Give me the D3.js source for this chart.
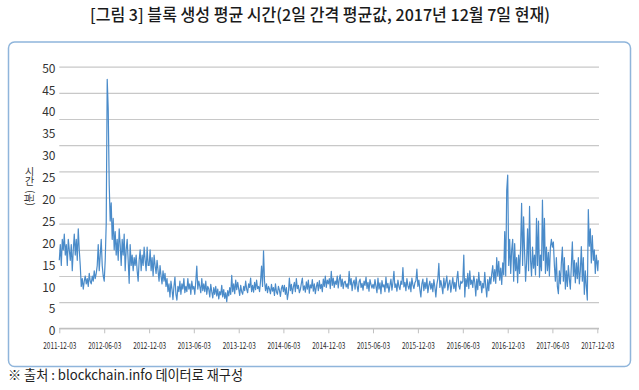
<!DOCTYPE html>
<html><head><meta charset="utf-8">
<script src="https://cdn.jsdelivr.net/npm/d3@7"></script>
<style>body{margin:0;background:#fff} svg{display:block}</style>
</head><body>
<svg id="c" width="639" height="390"></svg>
<script>
// ---- data ----
const titleText = "[그림 3] 블록 생성 평균 시간(2일 간격 평균값, 2017년 12월 7일 현재)";
const sourceText = "※ 출처 : blockchain.info 데이터로 재구성";
const tickDates = ["2011-12-03","2012-06-03","2012-12-03","2013-06-03","2013-12-03","2014-06-03","2014-12-03","2015-06-03","2015-12-03","2016-06-03","2016-12-03","2017-06-03","2017-12-03"];
const yTickLabels = ["50","45","40","35","30","25","20","25","20","15","10","5","0"];
const gridValues = [0,5,10,15,20,25,30,35,40,45,50];

// values (minutes), one array per half-year period starting at tickDates[k]
const p2011_12 = [13,16,12,17,15,18,14,16,12,17,15,13,16,11,15,18,14,17,13,19,15,12,8,9.5,7.5,9,10,8.5,9.5,8,10.5,9,8.5,10,9,11,9.5,10.5,12,16,11,14,17,12,10];
const p2012_06 = [9,13,20,47.6,42,27.5,20.5,24,17,21,15,18.5,14,17,13,19,16,12,17,14,18,11,15,17,13,8.6,16,12,14,11,13.5,12,14,11,9,13,15,11,14,12,15.5,13,11,15.5,12];
const p2012_12 = [12,15,11,13.5,10,14,12,10.5,13,11,9,12,10,8.5,11,9,10.5,8,9.5,7,8.5,6,9,7.5,5.5,8,9.8,6.5,5.4,8,7,9,6.5,8.5,7.5,9.5,6.8,8,7,9.5,7.5,8.5,6.5,9,7.5];
const p2013_06 = [8,6.5,9,11.9,7.5,9,8,6.8,9.5,7.2,8.5,7,9,6.5,8,7.5,6,8.4,7,5.8,7.8,6.5,8,6.2,7.5,5.6,7,6.4,8.2,6,7.4,5.7,6.8,5.1,7.2,6.2,7.8,6.5,10.1,7,8.5,6.6,9.2,7.4,8.8];
const p2013_12 = [7.5,6.3,8.2,7,6.5,8,7.2,9,7.5,6.8,8.5,7.8,9.6,7,8.2,6.9,8.8,7.4,9.2,7.6,8,7,9,11.9,8,14.8,9,7.2,8.5,6.8,8,7.5,6.6,8.4,7.1,7.8,6.3,8.5,7,6.5,8,7.3,6.1,7.6,8.2];
const p2014_06 = [7,8.2,6.5,7.8,5.5,6.8,9.6,7.2,8.4,6.6,7.9,8.8,7,9.5,7.6,8.2,6.8,7.4,8.6,9.6,7.3,8.1,6.9,8.9,7.5,9.2,6.7,8.3,7.7,9.3,7.1,8.5,6.6,7.9,8.8,7.2,9.1,7.6,8.4,7,9.4,8,10,7.8,9.2];
const p2014_12 = [8.5,9.5,7.6,10.9,8.2,9.6,7.8,9,8.4,10,7.7,9.3,10.2,8,9.4,7.6,8.8,9,7.9,8.5,7.6,10.9,8.3,9.5,7.2,8.7,9.2,7.5,9.8,8.1,7,8.9,9.4,7.8,8.6,7.3,9,8.2,9.8,7.6,8.8,7.1,9.3,8.4,7.7];
const p2015_06 = [8.4,7.6,9.3,8,6.8,9.6,7.5,8.7,6.6,9.1,7.9,8.3,7,9.8,7.7,8.6,6.9,8.2,9.4,7.3,8.8,10.9,7.8,8.5,7.1,9.2,8,7.4,9,8.4,11.6,7.9,8.8,7.2,9.5,8.1,7.5,8.9,7,9.6,8.3,7.6,8.7,9.1,11.3];
const p2015_12 = [8,9.2,7.4,6,8.5,9.4,7.2,8.8,7.6,9.6,6.8,8.2,9,7.5,8.6,7,9.3,7.9,6,8.4,9.5,12.4,7.8,9.1,8,6.6,9.6,7.7,8.9,10,7.3,8.5,9.2,6.9,8.3,9.7,7.6,8.8,7.1,9.4,10.9,8.1,7.5,9,8.6];
const p2016_06 = [9,14,6,9.5,8,10.5,7.6,11,8.4,9.2,7.8,10,8.8,6.2,9.4,7.4,10.7,8.2,9,6.8,8.6,7.7,10.7,8,6,9.3,7.2,9.8,8.5,10.4,12,9,11.2,8.6,13.5,10,12.8,9.2,11.5,8.4,12.5,10.2,18.5,10,26.4];
const p2016_12 = [29.3,12,17,10.5,15,17,9,16.2,11,13.5,8.7,14,10.5,15.5,23.9,12,21.3,14.5,9,12.5,19,11,23.3,13,10,15.5,11.5,14,10.2,21,12,20.5,9.8,14,11,24.5,13,21,10.5,15.5,11,14.5,10,15.5,17];
const p2017_06 = [15.5,16.5,12,9,13.5,8,6.6,11,8.5,12.5,15.5,9,13.5,7.5,11,8,12,9.5,7.5,12,16.5,10,13,8.7,12.5,9.5,13.5,8.5,11,15.6,9,13.5,6.5,11,8,5.4,22.7,15.7,19,12.5,17.7,13,15,10.5,14];
const tailDates = ["2017-12-05","2017-12-07"];
const tailValues = [11,13];

// ---- build ----
const parse = d3.timeParse("%Y-%m-%d");
const periods = [p2011_12,p2012_06,p2012_12,p2013_06,p2013_12,p2014_06,p2014_12,p2015_06,p2015_12,p2016_06,p2016_12,p2017_06];
const data = [];
periods.forEach((vals, k) => {
  const t0 = parse(tickDates[k]).getTime(), t1 = parse(tickDates[k+1]).getTime();
  vals.forEach((v, i) => data.push({date: new Date(t0 + (t1 - t0) * i / vals.length), value: v}));
});
tailDates.forEach((d, i) => data.push({date: parse(d), value: tailValues[i]}));

const svg = d3.select("#c");
const FONT = "'Noto Sans CJK KR','Noto Sans',sans-serif";

// frame
svg.append("rect").attr("x",8.5).attr("y",42).attr("width",622).attr("height",324.5)
  .attr("rx",6).attr("fill","none").attr("stroke","#8fb5db").attr("stroke-width",1.5);

// title
svg.append("text").attr("x",320).attr("y",20.5).attr("text-anchor","middle")
  .attr("font-family",FONT).attr("font-size",16.5).attr("font-weight",500).attr("fill","#1a1a1a")
  .attr("textLength",460).attr("lengthAdjust","spacingAndGlyphs").text(titleText);

// source
svg.append("text").attr("x",8).attr("y",379.5)
  .attr("font-family",FONT).attr("font-size",13.5).attr("fill","#222")
  .attr("textLength",235).attr("lengthAdjust","spacingAndGlyphs").text(sourceText);

// scales
const x = d3.scaleTime().domain([parse(tickDates[0]), parse(tickDates[tickDates.length-1])]).range([59.3, 597.3]);
const y = d3.scaleLinear().domain([0,50]).range([328.3, 66.7]);
const plotRight = 599;

// gridlines
const grid = svg.append("g").attr("transform","translate(59.3,0)")
  .call(d3.axisLeft(y).tickValues(gridValues).tickSize(-(plotRight-59.3)).tickFormat(""));
grid.select(".domain").remove();
grid.selectAll(".tick line").attr("stroke","#c8c8c8").attr("stroke-width",1.2);

// x axis
const xa = svg.append("g").attr("transform","translate(0,328.3)")
  .call(d3.axisBottom(x).tickValues(tickDates.map(parse)).tickSize(5).tickSizeOuter(0).tickPadding(9)
    .tickFormat(d3.timeFormat("%Y-%m-%d")));
xa.select(".domain").attr("stroke","#c0c0c0").attr("stroke-width",1.2)
  .attr("d", `M59.3,0H${plotRight}`);
xa.selectAll(".tick line").attr("stroke","#c0c0c0");
xa.selectAll(".tick text").attr("font-family",FONT).attr("font-size",9).attr("fill","#2a2a2a")
  .attr("textLength",33).attr("lengthAdjust","spacingAndGlyphs");

// y tick labels (as printed in the source; evenly spaced)
const yl = d3.scalePoint().domain(d3.range(yTickLabels.length)).range([68.3, 331]);
svg.append("g").selectAll("text").data(yTickLabels).join("text")
  .attr("x",55.5).attr("y",(d,i)=>yl(i)).attr("dy","0.36em").attr("text-anchor","end")
  .attr("font-family",FONT).attr("font-size",12).attr("fill","#333").text(d=>d);

// y axis title: "시간" stacked upright, "(분)" rotated
const yt = svg.append("g").attr("font-family",FONT).attr("font-size",10).attr("fill","#333");
yt.append("text").attr("x",29.5).attr("y",166)
  .style("writing-mode","vertical-rl").style("text-orientation","upright")
  .text("시간");
yt.append("text").attr("transform","translate(29.5,198) rotate(-90)").attr("text-anchor","middle")
  .attr("dy","0.36em").text("(분)");

// line
svg.append("path").datum(data)
  .attr("fill","none").attr("stroke","#4a8bc9").attr("stroke-width",1.2).attr("stroke-linejoin","round")
  .attr("d", d3.line().x(d=>x(d.date)).y(d=>y(d.value)));
</script>
</body></html>
